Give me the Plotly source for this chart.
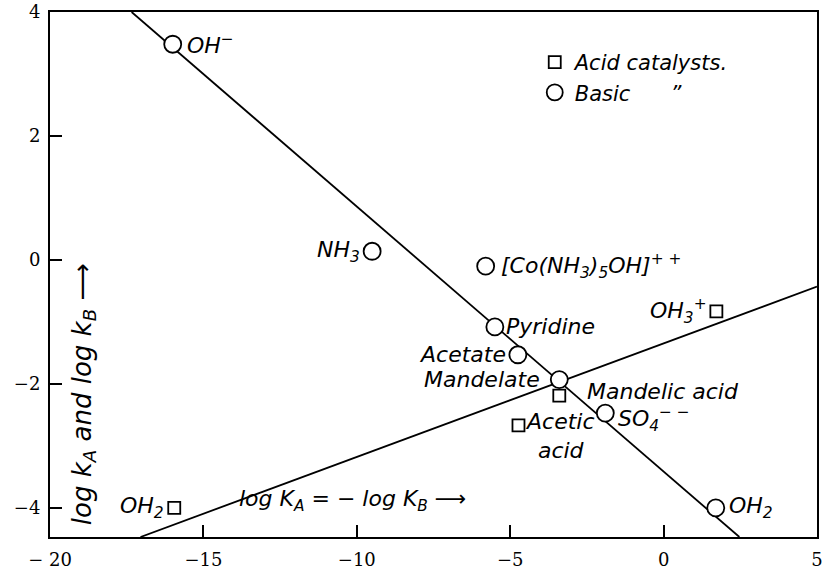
import plotly.graph_objects as go

# ---- data ----
basic_labels = ["<i>OH<sup>−</sup></i>", "<i>NH<sub>3</sub></i>",
                "<i>[Co(NH<sub>3</sub>)<sub>5</sub>OH]<sup>+ +</sup></i>",
                "<i>Pyridine</i>", "<i>Acetate</i>", "<i>Mandelate</i>",
                "<i>SO<sub>4</sub><sup>− −</sup></i>", "<i>OH<sub>2</sub></i>"]
basic_x = [-16.0, -9.5, -5.8, -5.5, -4.75, -3.4, -1.9, 1.7]
basic_y = [3.48, 0.14, -0.1, -1.08, -1.53, -1.93, -2.47, -4.0]

acid_labels = ["<i>OH<sub>2</sub></i>", "<i>Acetic<br>acid</i>",
               "<i>Mandelic acid</i>", "<i>OH<sub>3</sub><sup>+</sup></i>"]
acid_x = [-15.95, -4.73, -3.4, 1.72]
acid_y = [-4.0, -2.67, -2.19, -0.83]

basic_line_x = [-17.34, 2.47]
basic_line_y = [4.0, -4.47]
acid_line_x = [-17.05, 5.0]
acid_line_y = [-4.47, -0.43]

x_ticks = [-20, -15, -10, -5, 0, 5]
x_ticktext = ["− 20", "−15", "−10", "−5", "0", "5"]
y_ticks = [4, 2, 0, -2, -4]
y_ticktext = ["4", "2", "0", "−2", "−4"]

# ---- label placement (style, not data) ----
basic_place = [("left", 12, 0), ("right", -10, 0), ("left", 13, 0), ("left", 9, 0),
               ("right", -10, 0), ("right", -17, 0), ("left", 11, -6), ("left", 11, 0)]
acid_place = [("right", -8, 0), ("left", 5, -11), ("left", 26, 4), ("right", -7, 0)]

LBL_FONT = dict(family="DejaVu Sans", size=22, color="black")

fig = go.Figure()
fig.add_trace(go.Scatter(x=basic_line_x, y=basic_line_y, mode="lines",
                         line=dict(color="black", width=1.8), showlegend=False,
                         hoverinfo="skip"))
fig.add_trace(go.Scatter(x=acid_line_x, y=acid_line_y, mode="lines",
                         line=dict(color="black", width=1.8), showlegend=False,
                         hoverinfo="skip"))
fig.add_trace(go.Scatter(x=acid_x, y=acid_y, mode="markers", name="<i>Acid catalysts.</i>",
                         marker=dict(symbol="square", size=12, color="white",
                                     line=dict(color="black", width=1.8))))
fig.add_trace(go.Scatter(x=basic_x, y=basic_y, mode="markers",
                         name="<i>Basic\u00a0\u00a0\u00a0\u00a0\u00a0\u00a0\u201d</i>",
                         marker=dict(symbol="circle", size=17, color="white",
                                     line=dict(color="black", width=1.8))))

annotations = []
for lbl, x, y, (xa, xs, ys) in zip(basic_labels, basic_x, basic_y, basic_place):
    annotations.append(dict(x=x, y=y, xref="x", yref="y", text=lbl, showarrow=False,
                            xanchor=xa, yanchor="middle", xshift=xs, yshift=ys,
                            font=LBL_FONT))
for lbl, x, y, (xa, xs, ys) in zip(acid_labels, acid_x, acid_y, acid_place):
    annotations.append(dict(x=x, y=y, xref="x", yref="y", text=lbl, showarrow=False,
                            xanchor=xa, yanchor="middle", xshift=xs, yshift=ys,
                            align="center", font=LBL_FONT))

annotations.append(dict(x=0.043, y=0.272, xref="paper", yref="paper",
                        text="<i>log k<sub>A</sub> and log k<sub>B</sub> ⟶</i>",
                        textangle=-90, showarrow=False, xanchor="center", yanchor="middle",
                        font=dict(family="DejaVu Sans", size=26, color="black")))
annotations.append(dict(x=0.395, y=0.07, xref="paper", yref="paper",
                        text="<i>log K<sub>A</sub> = − log K<sub>B</sub> ⟶</i>",
                        showarrow=False, xanchor="center", yanchor="middle",
                        font=dict(family="DejaVu Sans", size=22, color="black")))

axis_common = dict(showgrid=False, zeroline=False, showline=True, linecolor="black",
                   linewidth=2, mirror=True, ticks="inside", ticklen=12, tickwidth=2,
                   tickcolor="black", automargin=False, ticklabeloverflow="allow",
                   tickfont=dict(family="DejaVu Serif", size=18, color="black"))

fig.update_layout(
    width=822, height=570,
    margin=dict(l=50, r=5, t=12, b=33),
    paper_bgcolor="white", plot_bgcolor="white",
    font=dict(family="DejaVu Sans", color="black"),
    xaxis=dict(range=[-20, 5], tickvals=x_ticks, ticktext=x_ticktext,
               ticklabelstandoff=5, **axis_common),
    yaxis=dict(range=[-4.47, 4.0], tickvals=y_ticks, ticktext=y_ticktext,
               ticklabelstandoff=4, **axis_common),
    legend=dict(x=0.632, y=0.943, xanchor="left", yanchor="top", bgcolor="rgba(0,0,0,0)",
                font=dict(family="DejaVu Sans", size=21, color="black"),
                itemwidth=30, tracegroupgap=0),
    annotations=annotations,
    showlegend=True,
)

fig.write_html("out.html", config={"displayModeBar": False},
               post_script="document.body.style.margin='0';document.body.style.overflow='hidden';")
